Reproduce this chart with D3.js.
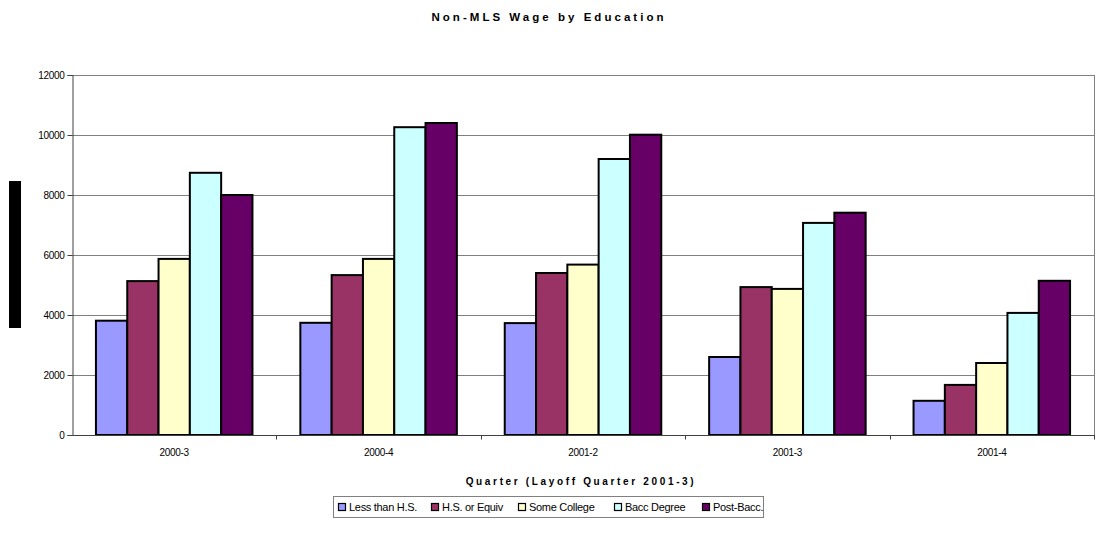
<!DOCTYPE html>
<html>
<head>
<meta charset="utf-8">
<script src="https://cdn.jsdelivr.net/npm/d3@7"></script>
<style>
  html, body { margin: 0; padding: 0; background: #fff; }
  svg { display: block; font-family: "Liberation Sans", Arial, sans-serif; }
</style>
</head>
<body>
<svg id="chart" width="1099" height="548"></svg>
<script>
// Quarters along the x axis
const quarters = ["2000-3", "2000-4", "2001-2", "2001-3", "2001-4"];

// Education groups (legend order)
const groups = ["Less than H.S.", "H.S. or Equiv", "Some College", "Bacc Degree", "Post-Bacc."];

// Average non-MLS wage per quarter, one array per education group
const lessThanHS = [3810, 3740, 3730, 2600, 1140];
const hsOrEquiv  = [5130, 5330, 5400, 4930, 1670];
const someCollege = [5870, 5870, 5680, 4870, 2400];
const baccDegree = [8740, 10260, 9200, 7070, 4070];
const postBacc   = [8000, 10400, 10010, 7410, 5140];

const yTicks = [0, 2000, 4000, 6000, 8000, 10000, 12000];

const seriesValues = [lessThanHS, hsOrEquiv, someCollege, baccDegree, postBacc];
const colors = ["#9999FF", "#993366", "#FFFFCC", "#CCFFFF", "#660066"];

const svg = d3.select("#chart");
const plot = { left: 72, right: 1094, top: 75, bottom: 435 };

const x0 = d3.scaleBand().domain(quarters).range([plot.left, plot.right]).padding(0);
const x1 = d3.scaleBand().domain(groups).range([0, x0.bandwidth()])
  .paddingInner(0).paddingOuter(0.765);
const y = d3.scaleLinear().domain([0, 12000]).range([plot.bottom, plot.top]);

// Spread a bold caption across a given width
function spacedText(sel, width) {
  const n = sel.text().length;
  const w = sel.node().getComputedTextLength();
  sel.attr("letter-spacing", ((width - w) / (n - 1)) + "px");
}

// Chart title
svg.append("text")
  .attr("x", 549).attr("y", 21)
  .attr("text-anchor", "middle")
  .attr("font-size", 11.5).attr("font-weight", "bold")
  .attr("fill", "#000")
  .text("Non-MLS Wage by Education")
  .call(spacedText, 232);

// Horizontal gridlines
svg.append("g").selectAll("line")
  .data(yTicks.filter(d => d > 0))
  .join("line")
  .attr("x1", plot.left).attr("x2", plot.right)
  .attr("y1", d => Math.round(y(d)) + 0.5).attr("y2", d => Math.round(y(d)) + 0.5)
  .attr("stroke", "#808080").attr("stroke-width", 1);

// Right border of the plot area
svg.append("line")
  .attr("x1", plot.right + 0.5).attr("x2", plot.right + 0.5)
  .attr("y1", plot.top).attr("y2", plot.bottom)
  .attr("stroke", "#808080").attr("stroke-width", 1);

// Grouped bars
const barG = svg.append("g");
quarters.forEach((q, qi) => {
  barG.append("g")
    .attr("transform", `translate(${x0(q)},0)`)
    .selectAll("rect")
    .data(groups.map((g, gi) => ({ g, gi, v: seriesValues[gi][qi] })))
    .join("rect")
    .attr("x", d => x1(d.g))
    .attr("width", x1.bandwidth())
    .attr("y", d => y(d.v))
    .attr("height", d => y(0) - y(d.v))
    .attr("fill", d => colors[d.gi])
    .attr("stroke", "#000").attr("stroke-width", 2);
});

// Y axis
const yAxis = d3.axisLeft(y).tickValues(yTicks).tickSize(5).tickPadding(3).tickFormat(d3.format("d"));
const yg = svg.append("g").attr("transform", `translate(${plot.left + 0.5},0)`).call(yAxis);
yg.select(".domain").attr("stroke", "#404040");
yg.selectAll(".tick line").attr("stroke", "#404040");
yg.selectAll("text").attr("font-size", 10).attr("fill", "#000")
  .attr("letter-spacing", "-0.3px")
  .attr("font-family", "Liberation Sans, Arial, sans-serif");

// X axis: ticks at the category boundaries
const xg = svg.append("g").attr("transform", `translate(0,${plot.bottom + 0.5})`);
xg.append("line").attr("x1", plot.left).attr("x2", plot.right + 1)
  .attr("stroke", "#404040");
xg.selectAll("line.tk")
  .data(quarters.slice(1).map(q => x0(q)).concat([plot.right]))
  .join("line").attr("class", "tk")
  .attr("x1", d => Math.round(d) + 0.5).attr("x2", d => Math.round(d) + 0.5)
  .attr("y1", 0).attr("y2", 4).attr("stroke", "#404040");
xg.selectAll("text")
  .data(quarters)
  .join("text")
  .attr("x", d => x0(d) + x0.bandwidth() / 2)
  .attr("y", 20)
  .attr("text-anchor", "middle")
  .attr("font-size", 10).attr("fill", "#000")
  .attr("letter-spacing", "-0.3px")
  .text(d => d);

// X axis title
svg.append("text")
  .attr("x", 581).attr("y", 485)
  .attr("text-anchor", "middle")
  .attr("font-size", 10).attr("font-weight", "bold")
  .attr("fill", "#000")
  .text("Quarter (Layoff Quarter 2001-3)")
  .call(spacedText, 228);

// Y axis title block
svg.append("rect")
  .attr("x", 9).attr("y", 181).attr("width", 12).attr("height", 147)
  .attr("fill", "#000");

// Legend
const legend = svg.append("g");
legend.append("rect")
  .attr("x", 333.5).attr("y", 496.5).attr("width", 430).attr("height", 21)
  .attr("fill", "#fff").attr("stroke", "#808080").attr("stroke-width", 1);
const legendX = [338, 431, 518, 614, 702];
groups.forEach((g, i) => {
  legend.append("rect")
    .attr("x", legendX[i] + 0.5).attr("y", 503.5).attr("width", 7).attr("height", 7)
    .attr("fill", colors[i]).attr("stroke", "#000").attr("stroke-width", 1.2);
  legend.append("text")
    .attr("x", legendX[i] + 11).attr("y", 511)
    .attr("font-size", 11).attr("fill", "#000")
    .attr("letter-spacing", "-0.3px")
    .text(g);
});
</script>
</body>
</html>
